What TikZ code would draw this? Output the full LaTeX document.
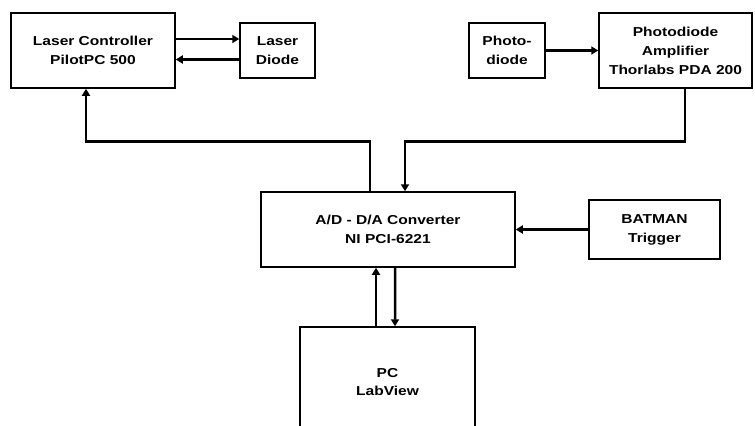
\documentclass[tikz,border=0pt]{standalone}
\usepackage{fontspec}
\setmainfont{Liberation Sans}[FakeStretch=1.2]
\usetikzlibrary{calc, arrows.meta}

\begin{document}
\begin{tikzpicture}[
    x=1bp, y=-1bp,
    >={Triangle[length=7bp, width=8bp]},
    font=\fontsize{13}{19}\selectfont\bfseries,
    block/.style={draw=black, line width=1.5bp, align=center, inner sep=0pt},
    link/.style={->, line width=2.5bp}
]

    % Frame (image size 755 x 425)
    \useasboundingbox (0,0) rectangle (755,425);
    \clip (0,0) rectangle (755,425);

    % 1. Laser side
    \node[block, minimum width=164bp, minimum height=75bp] (ctrl) at (93,50.5)
        {Laser Controller\\PilotPC 500};
    \node[block, minimum width=75bp, minimum height=55bp] (ldiode) at (277.5,50.5)
        {Laser\\Diode};

    % 2. Photodiode side
    \node[block, minimum width=76bp, minimum height=55bp] (pdiode) at (507,50.5)
        {Photo-\\diode};
    \node[block, minimum width=153bp, minimum height=75bp] (pda) at (675.5,50.5)
        {Photodiode\\Amplifier\\Thorlabs PDA 200};

    % 3. Converter and trigger
    \node[block, minimum width=254bp, minimum height=75bp] (adc) at (388,229.5)
        {A/D - D/A Converter\\NI PCI-6221};
    \node[block, minimum width=131bp, minimum height=59bp] (batman) at (654.5,229.5)
        {BATMAN\\Trigger};

    % 4. PC (runs off the bottom edge)
    \node[block, minimum width=175bp, minimum height=110bp] (pc) at (387.5,382)
        {PC\\LabView};

    % Connections
    \draw[link] ($(ctrl.east)+(0,-11.5)$) -- ($(ldiode.west)+(0,-11.5)$);
    \draw[link] ($(ldiode.west)+(0,9)$) -- ($(ctrl.east)+(0,9)$);
    \draw[link] (pdiode.east) -- (pda.west);

    % PDA output down into the converter
    \coordinate (pdaout) at ($(pda.south)+(9.5,0)$);
    \coordinate (adcin) at ($(adc.north)+(17,0)$);
    \draw[link] (pdaout) |- ($(adcin)+(0,-50)$) -- (adcin);

    % Converter output up to the controller
    \coordinate (adcout) at ($(adc.north)+(-18,0)$);
    \coordinate (ctrlin) at ($(ctrl.south)+(-7,0)$);
    \draw[link] (adcout) -- ($(adcout)+(0,-50)$) -| (ctrlin);

    \draw[link] (batman.west) -- (adc.east);

    % PC <-> converter
    \draw[link] ($(pc.north)+(-11.5,0)$) -- ($(adc.south)+(-12,0)$);
    \draw[link] ($(adc.south)+(7,0)$) -- ($(pc.north)+(7.5,0)$);

\end{tikzpicture}
\end{document}
